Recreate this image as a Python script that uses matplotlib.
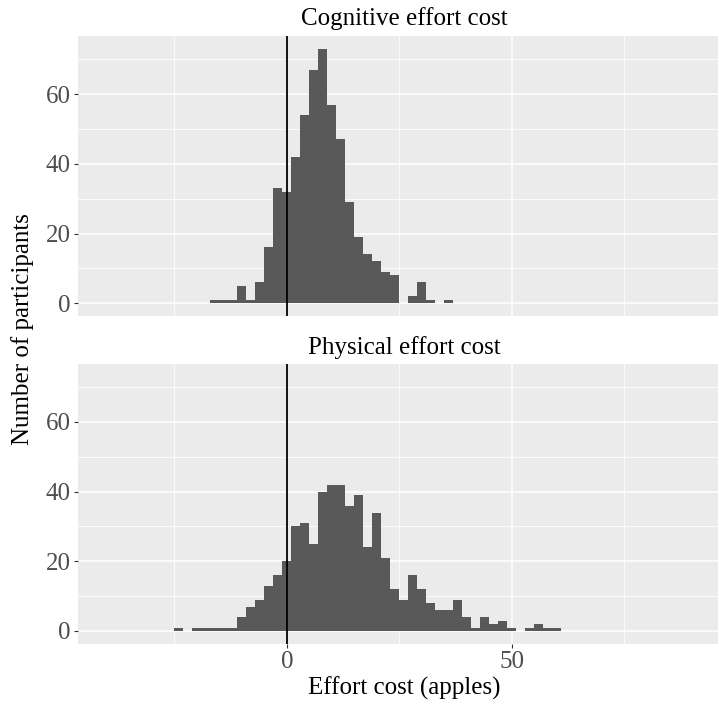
import matplotlib
matplotlib.use("Agg")
import matplotlib.pyplot as plt
import numpy as np

plt.rcParams['font.family'] = ['Liberation Serif', 'DejaVu Serif']

# ---- data ----
bin_width = 2
cog_start = -17
cog_counts = [1, 1, 1, 5, 1, 6, 16, 33, 32, 42, 54, 67, 73, 57, 47, 29, 19,
              14, 12, 9, 8, 0, 2, 6, 1, 0, 1]
phys_start = -25
phys_counts = [1, 0, 1, 1, 1, 1, 1, 4, 7, 9, 13, 16, 20, 30, 31, 25, 40, 42,
               42, 36, 39, 24, 34, 21, 12, 9, 16, 12, 8, 6, 6, 9, 4, 1, 4, 2,
               3, 1, 0, 1, 2, 1, 1]
panel_titles = ["Cognitive effort cost", "Physical effort cost"]
x_major = [0, 50]
x_minor = [-25, 25, 75]
y_major = [0, 20, 40, 60]
y_minor = [10, 30, 50, 70]
xlabel = "Effort cost (apples)"
ylabel = "Number of participants"

W, H = 719, 704
fig = plt.figure(figsize=(W / 100, H / 100), dpi=100)
fig.patch.set_facecolor('white')

FS = 18
panel_px = [(36, 316), (364, 643.7)]
left_px, right_px = 78, 718
text_cx = 404

axes = []
for i, (t, b) in enumerate(panel_px):
    ax = fig.add_axes([left_px / W, 1 - b / H, (right_px - left_px) / W, (b - t) / H])
    axes.append(ax)

data = [(cog_start, cog_counts), (phys_start, phys_counts)]
for i, ax in enumerate(axes):
    start, counts = data[i]
    edges = start + bin_width * np.arange(len(counts))
    ax.set_facecolor('#EBEBEB')
    for s in ax.spines.values():
        s.set_visible(False)
    ax.set_xlim(-46.4, 95.8)
    ax.set_ylim(-3.65, 76.65)
    ax.set_xticks(x_major)
    ax.set_xticks(x_minor, minor=True)
    ax.set_yticks(y_major)
    ax.set_yticks(y_minor, minor=True)
    ax.grid(True, which='major', color='white', lw=1.1)
    ax.grid(True, which='minor', color='white', lw=0.55)
    ax.set_axisbelow(True)
    ax.bar(edges, counts, width=bin_width, align='edge', color='#595959',
           edgecolor='none', zorder=2)
    ax.axvline(0, color='black', lw=1.3, zorder=3)
    ax.tick_params(which='minor', length=0)
    ax.tick_params(which='major', length=2.9, width=0.8, color='#333333',
                   labelsize=FS, labelcolor='#4D4D4D', pad=2.2)
    if i == 0:
        ax.tick_params(axis='x', which='both', length=0, labelbottom=False)
    fig.text(text_cx / W, 1 - (19 if i == 0 else 348) / H,
             panel_titles[i], ha='center', va='center', fontsize=FS, color='black')

fig.text(text_cx / W, 1 - 688 / H, xlabel, ha='center',
         va='center', fontsize=FS, color='black')
fig.text(23 / W, 1 - 329 / H, ylabel, ha='center', va='center',
         rotation=90, fontsize=FS, color='black')

fig.savefig('out.png', dpi=100)
